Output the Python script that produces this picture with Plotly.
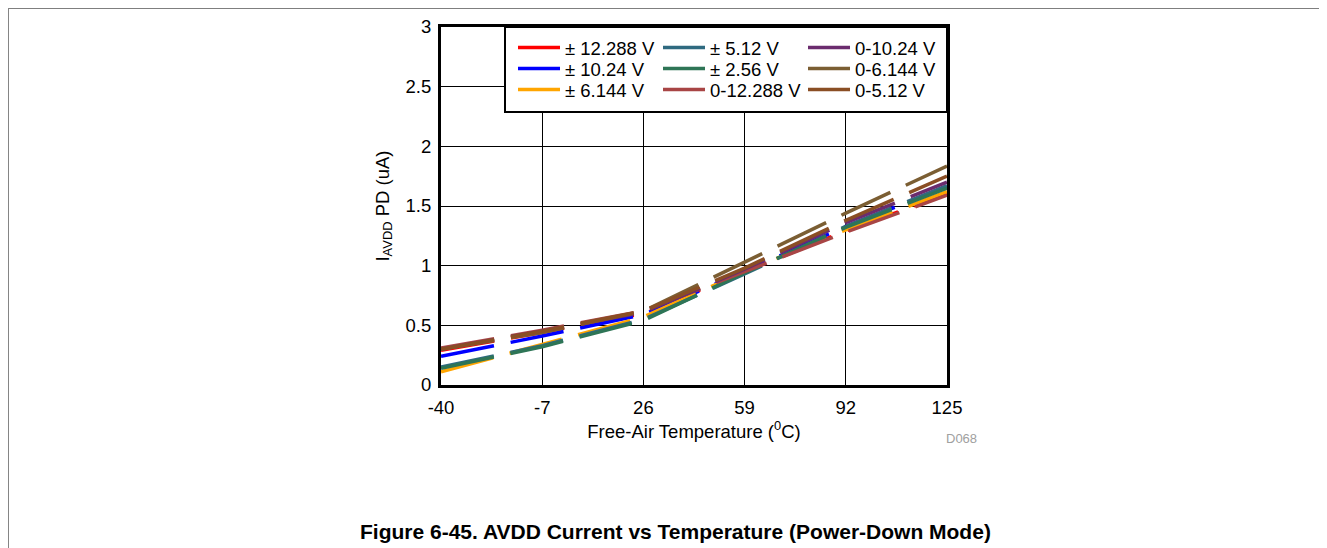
import plotly.graph_objects as go

temps = [-40, -7, 26, 59, 92, 125]

names = ["± 12.288 V", "± 10.24 V", "± 6.144 V",
         "± 5.12 V", "± 2.56 V", "0-12.288 V",
         "0-10.24 V", "0-6.144 V", "0-5.12 V"]

pm12288 = [0.29, 0.44, 0.60, 0.95, 1.29, 1.60]
pm1024 = [0.24, 0.41, 0.59, 0.95, 1.33, 1.66]
pm6144 = [0.11, 0.34, 0.57, 0.95, 1.30, 1.62]
pm512 = [0.15, 0.33, 0.55, 0.93, 1.33, 1.67]
pm256 = [0.14, 0.32, 0.54, 0.94, 1.32, 1.65]
u12288 = [0.31, 0.46, 0.62, 0.95, 1.28, 1.59]
u1024 = [0.30, 0.45, 0.61, 0.97, 1.36, 1.70]
u6144 = [0.30, 0.44, 0.62, 1.03, 1.44, 1.835]
u512 = [0.30, 0.45, 0.62, 0.98, 1.38, 1.75]

series = [pm12288, pm1024, pm6144, pm512, pm256, u12288, u1024, u6144, u512]
colors = ["#FF0000", "#0000FF", "#FFA500", "#2F6A80", "#2E7556",
          "#A84545", "#6B2C6E", "#7B5E33", "#8A4E24"]

x_ticks = [-40, -7, 26, 59, 92, 125]
x_ticktext = ["-40", "-7", "26", "59", "92", "125"]
y_ticks = [0, 0.5, 1, 1.5, 2, 2.5, 3]
y_ticktext = ["0", "0.5", "1", "1.5", "2", "2.5", "3"]

FONT = "Liberation Sans, Arial, sans-serif"
FS = 18.5

# screen geometry (page has an 8px body margin)
OFF = 8
L, R, T, B = 441, 947, 27, 385
pw, ph = R - L, B - T
FW, FH = 1319, 540


def px(xp):
    return (xp - L) / pw


def py(yp):
    return (B - yp) / ph


fig = go.Figure()
legend_ids = ["legend"] + ["legend%d" % i for i in range(2, 10)]
for name, ys, c, lg in zip(names, series, colors, legend_ids):
    fig.add_trace(go.Scatter(
        x=temps, y=ys, mode="lines", name=name, legend=lg,
        line=dict(color=c, width=3.5, dash="54px,17px"),
    ))

col_line_x = [520, 665, 810]
row_y = [48, 69, 90]
legends = {}
for i, lg in enumerate(legend_ids):
    col, row = divmod(i, 3)
    legends[lg] = dict(
        x=px(col_line_x[col] - 7), y=py(row_y[row]),
        xanchor="left", yanchor="middle",
        bgcolor="rgba(0,0,0,0)", borderwidth=0, orientation="v",
        font=dict(family=FONT, size=FS, color="black"),
        itemwidth=42,
    )

fig.update_layout(
    width=FW, height=FH,
    margin=dict(l=L - OFF, r=FW - (R - OFF), t=T - OFF, b=FH - (B - OFF), autoexpand=False),
    paper_bgcolor="white", plot_bgcolor="white",
    font=dict(family=FONT, size=FS, color="black"),
    showlegend=True,
    xaxis=dict(
        range=[-40, 125], tickvals=x_ticks, ticktext=x_ticktext, ticks="", showgrid=True,
        gridcolor="black", gridwidth=1, showline=True, linecolor="black",
        linewidth=3, mirror=True, zeroline=False,
        tickfont=dict(size=FS), ticklabelstandoff=4,
        title=dict(text="Free-Air Temperature (<sup>0</sup>C)", font=dict(size=FS), standoff=0),
    ),
    yaxis=dict(
        range=[0, 3], tickvals=y_ticks, ticktext=y_ticktext, ticks="", showgrid=True,
        gridcolor="black", gridwidth=1, showline=True, linecolor="black",
        linewidth=3, mirror=True, zeroline=False,
        tickfont=dict(size=FS), ticklabelstandoff=3,
        title=dict(text="I<sub>AVDD</sub> PD (uA)", font=dict(size=FS), standoff=12),
    ),
    shapes=[
        dict(type="rect", xref="paper", yref="paper",
             x0=px(505), x1=1.0, y0=py(112), y1=1.0,
             fillcolor="white", line=dict(color="black", width=2), layer="above"),
        dict(type="line", xref="paper", yref="paper",
             x0=px(8.2), x1=px(1340), y0=py(8.2), y1=py(8.2),
             line=dict(color="#7f7f7f", width=1.5)),
        dict(type="line", xref="paper", yref="paper",
             x0=px(8.2), x1=px(8.2), y0=py(8.2), y1=py(560),
             line=dict(color="#7f7f7f", width=1.5)),
    ],
    legend=legends["legend"],
    **{k: v for k, v in legends.items() if k != "legend"},
    annotations=[
        dict(text="D068", xref="paper", yref="paper", x=px(961), y=py(438),
             xanchor="center", yanchor="middle",
             showarrow=False, font=dict(size=13, color="#a0a0a0")),
        dict(text="<b>Figure 6-45. AVDD Current vs Temperature (Power-Down Mode)</b>",
             xref="paper", yref="paper", x=px(675), y=py(531),
             xanchor="center", yanchor="middle", showarrow=False,
             font=dict(size=21, color="black")),
    ],
)

fig.write_html("out.html")
